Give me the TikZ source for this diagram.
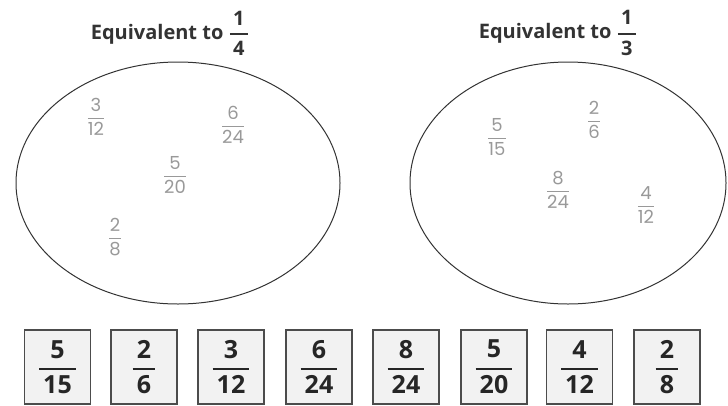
\documentclass[tikz,border=0pt]{standalone}
\usepackage{amsmath}
\usepackage{fontspec}
\setmainfont{Open Sans}
\newfontfamily\handfont{Poppins}
\usetikzlibrary{shapes.geometric, positioning}

\newcommand{\cardfrac}[2]{$\genfrac{}{}{2pt}{0}{\text{\,#1\,}}{\text{\,#2\,}}$}
\newcommand{\handfrac}[2]{$\genfrac{}{}{1pt}{0}{\text{#1}}{\text{#2}}$}

\tikzset{
  cardbox/.style={draw=black!70, line width=1.4pt, fill=black!5, minimum width=66pt, minimum height=74pt, inner sep=0pt},
  cardtext/.style={font=\fontsize{25}{27}\selectfont\bfseries, text=black!85},
  handtext/.style={font=\handfont\fontsize{18}{19}\selectfont, text=black!40},
  settitle/.style={font=\fontsize{20}{22}\selectfont\bfseries, text=black!80},
  setring/.style={ellipse, draw=black!80, line width=1pt, inner sep=0pt}
}

\begin{document}
\begin{tikzpicture}[x=1pt, y=-1pt]
\useasboundingbox (0,0) rectangle (728,405);
% the two sets
\node at (170,33) [settitle] (quartertitle) {Equivalent to \cardfrac{1}{4}};
\node at (558,33) [settitle] (thirdtitle) {Equivalent to \cardfrac{1}{3}};
\node at (178,183) [setring, minimum width=324pt, minimum height=242pt] (quarterset) {};
\node at (568,183) [setring, minimum width=316pt, minimum height=242pt] (thirdset) {};
% written in, quarters
\node at (96,117) [handtext] (qa) {\handfrac{3}{12}};
\node at (233,125) [handtext] (qb) {\handfrac{6}{24}};
\node at (175,175) [handtext] (qc) {\handfrac{5}{20}};
\node at (115,237) [handtext] (qd) {\handfrac{2}{8}};
% written in, thirds
\node at (497,137) [handtext] (ta) {\handfrac{5}{15}};
\node at (594,120) [handtext] (tb) {\handfrac{2}{6}};
\node at (558,190) [handtext] (tc) {\handfrac{8}{24}};
\node at (646,205) [handtext] (td) {\handfrac{4}{12}};
% cards
\node at (57.5,367) [cardbox, cardtext] (cardA) {\cardfrac{5}{15}};
\node at (144,367) [cardbox, cardtext] (cardB) {\cardfrac{2}{6}};
\node at (231,367) [cardbox, cardtext] (cardC) {\cardfrac{3}{12}};
\node at (319,367) [cardbox, cardtext] (cardD) {\cardfrac{6}{24}};
\node at (406,367) [cardbox, cardtext] (cardE) {\cardfrac{8}{24}};
\node at (494,367) [cardbox, cardtext] (cardF) {\cardfrac{5}{20}};
\node at (579.5,367) [cardbox, cardtext] (cardG) {\cardfrac{4}{12}};
\node at (667,367) [cardbox, cardtext] (cardH) {\cardfrac{2}{8}};
\end{tikzpicture}
\end{document}
